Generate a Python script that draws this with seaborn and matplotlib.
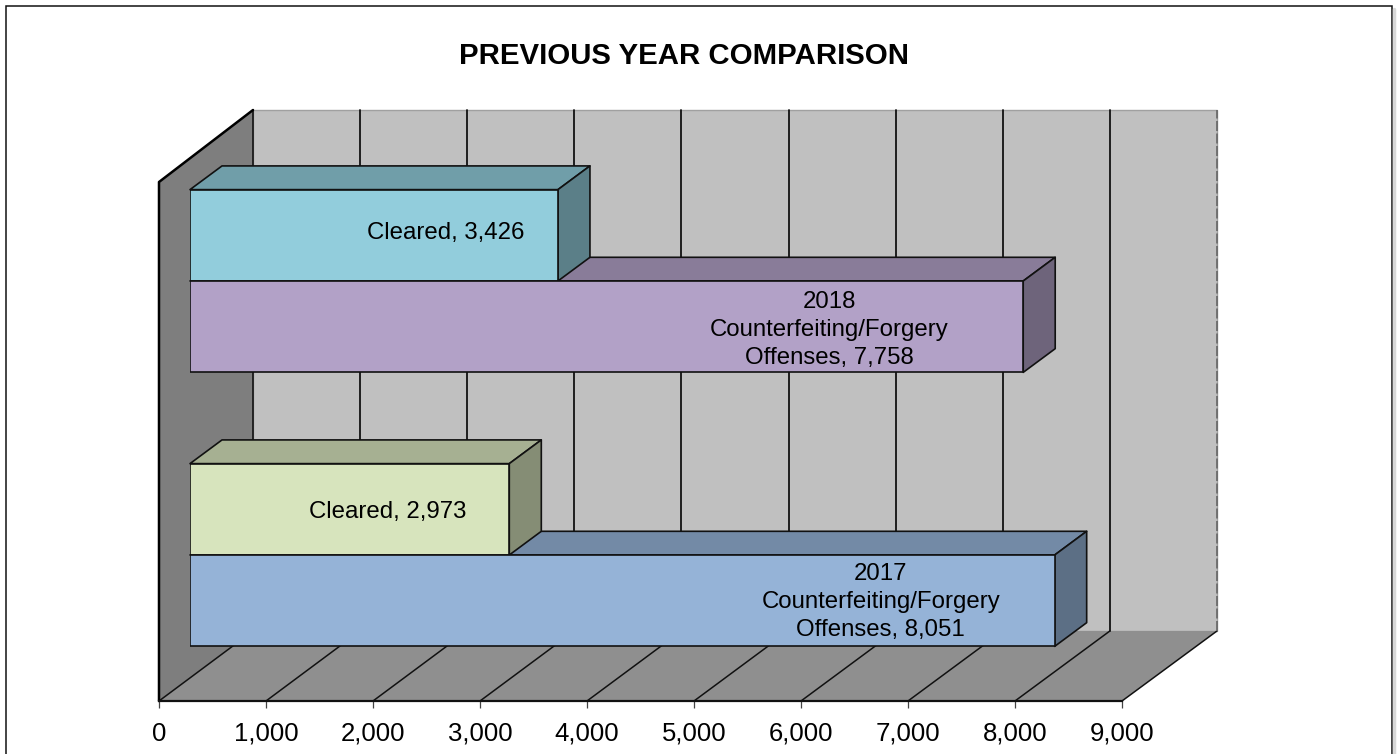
import matplotlib
matplotlib.use("Agg")
import matplotlib.pyplot as plt
from matplotlib.patches import Polygon, Rectangle
from matplotlib.lines import Line2D
import pandas as pd
import seaborn as sns

# ---- data ----
years = ["2018", "2018", "2017", "2017"]
series = ["Cleared", "Offenses", "Cleared", "Offenses"]
values = [3426, 7758, 2973, 8051]
labels = ["Cleared, 3,426",
          "2018\nCounterfeiting/Forgery\nOffenses, 7,758",
          "Cleared, 2,973",
          "2017\nCounterfeiting/Forgery\nOffenses, 8,051"]
front_colors = ["#92CDDC", "#B2A1C7", "#D7E4BD", "#95B3D7"]
xticks = [0, 1000, 2000, 3000, 4000, 5000, 6000, 7000, 8000, 9000]
title = "PREVIOUS YEAR COMPARISON"

W, H = 1398, 754
sns.set_theme(style="white")
plt.rcParams["font.family"] = ["Liberation Sans", "DejaVu Sans"]
plt.rcParams["text.color"] = "black"
FS = 17.3

fig = plt.figure(figsize=(W / 100, H / 100), dpi=100, facecolor="white")


def axes_px(left, top, right, bottom):
    return fig.add_axes([left / W, 1 - bottom / H, (right - left) / W, (bottom - top) / H])


def shade(color, f):
    r, g, b = matplotlib.colors.to_rgb(color)
    return (r * f, g * f, b * f)


# ---- floor / walls axes ----
ax = axes_px(159, 182, 1122, 701)
ax.set_xlim(0, 9000)
ax.set_ylim(0, 519)
ax.patch.set_visible(False)
DX = 94 / (963 / 9000)
DY = 70
xmax = xticks[-1]
kw = dict(clip_on=False)


def back(t):
    return DX + t * 1.001


ax.add_patch(Polygon([(back(0), DY), (back(xmax), DY), (back(xmax), 519 + 2 + DY), (back(0), 519 + 2 + DY)],
                     facecolor="#C0C0C0", edgecolor="#A0A0A0", lw=1, zorder=1, **kw))
ax.add_patch(Polygon([(0, 0), (xmax, 0), (back(xmax), DY), (back(0), DY)],
                     facecolor="#8F8F8F", edgecolor="none", zorder=1.5, **kw))
ax.add_patch(Polygon([(0, 0), (back(0), DY), (back(0), 519 + 2 + DY), (0, 519)],
                     facecolor="#7E7E7E", edgecolor="none", zorder=2, **kw))
ax.plot([0, 0, back(0)], [0, 519, 519 + 2 + DY], color="black", lw=1.8, zorder=2.6,
        solid_joinstyle="round", **kw)
ax.plot([back(0), back(0)], [DY, 519 + 2 + DY], color="#111111", lw=1.2, zorder=2.5, **kw)
for t in xticks:
    ax.plot([t, back(t)], [0, DY], color="#111111", lw=1.1, zorder=2.5, **kw)
    if 0 < t < xmax:
        ax.plot([back(t), back(t)], [DY, 519 + 2 + DY], color="#111111", lw=1.3, zorder=2.5, **kw)
ax.plot([back(xmax), back(xmax)], [DY, 519 + 2 + DY], color="#666666", lw=1.2,
        ls=(0, (6, 1.5)), zorder=2.5, **kw)
for side in ["top", "left", "right"]:
    ax.spines[side].set_visible(False)
ax.spines["bottom"].set_color("#111111")
ax.spines["bottom"].set_linewidth(1.6)
ax.spines["bottom"].set_zorder(3)
ax.set_yticks([])
ax.set_xticks(xticks)
ax.set_xticklabels([f"{t:,}" for t in xticks], fontsize=18.5, color="black")
ax.tick_params(axis="x", bottom=True, length=5, width=0.9, color="#444444", pad=10)

# ---- bars axes (mid-depth plane) ----
df = pd.DataFrame({"year": years, "series": series, "value": values})
bx = axes_px(190, 159, 190 + 9000 * 0.1074, 678)
bx.set_zorder(3)
bx.patch.set_visible(False)
sns.barplot(data=df, y="year", x="value", hue="series", order=["2018", "2017"],
            hue_order=["Cleared", "Offenses"], width=0.667, gap=0, dodge=True,
            legend=False, ax=bx)
bx.set_xlim(0, 9000)
bx.set_ylim(1 + 123 / 274, -122 / 274)
bx.axis("off")

dx = 32 / 0.1074
dy = 23.7 / 274
bars = {}
for cont, s in zip(bx.containers, ["Cleared", "Offenses"]):
    for bar, y in zip(cont, ["2018", "2017"]):
        bars[(y, s)] = bar

offs = [(-112, 2), (-194, -3), (-122, -3), (-174, -1)]
ekw = dict(edgecolor="#111111", lw=1.2, clip_on=False, joinstyle="round")
for y, s, v, lab, col, off in zip(years, series, values, labels, front_colors, offs):
    b = bars[(y, s)]
    b.set_facecolor(col)
    b.set_edgecolor("#111111")
    b.set_linewidth(1.2)
    b.set_zorder(6)
    yt, yb = b.get_y(), b.get_y() + b.get_height()
    z = 3 if s == "Cleared" else 2
    bx.add_patch(Polygon([(0, yt), (v, yt), (v + dx, yt - dy), (dx, yt - dy)],
                         facecolor=shade(col, 0.77), zorder=z, **ekw))
    bx.add_patch(Polygon([(v, yt), (v + dx, yt - dy), (v + dx, yb - dy), (v, yb)],
                         facecolor=shade(col, 0.62), zorder=z + 0.5, **ekw))
    bx.annotate(lab, xy=(v, (yt + yb) / 2), xytext=off, textcoords="offset pixels",
                ha="center", va="center", multialignment="center", fontsize=FS,
                linespacing=1.36, zorder=8, color="black")

# ---- title and chart frame ----
fig.text(684 / W, 1 - 56 / H, title, ha="center", va="center", fontsize=21.2,
         fontweight="bold", color="black")
fig.add_artist(Rectangle((5.5 / W, -0.01), (1391.5 - 5.5) / W, 1 - 6.5 / H + 0.01,
                         transform=fig.transFigure, fill=False, edgecolor="#111111", lw=1.1))
fig.add_artist(Line2D([1394 / W, 1394 / W], [0, 1 - 9 / H], color="#D8D8D8", lw=2.5))

fig.savefig("out.png", dpi=100, facecolor="white")
